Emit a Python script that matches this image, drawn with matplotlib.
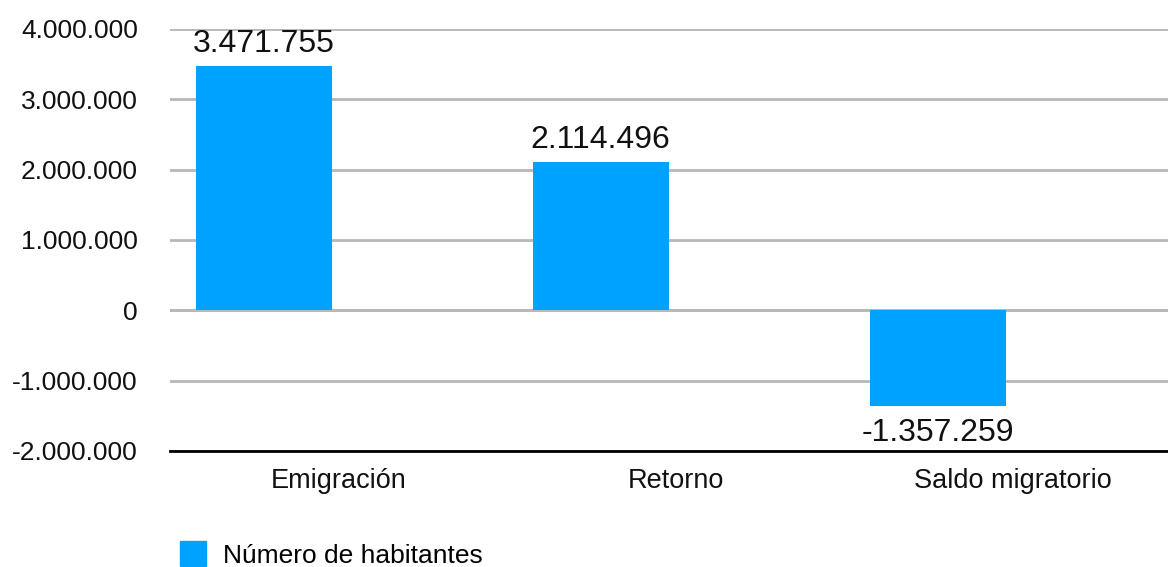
import matplotlib as mpl
mpl.use('Agg')
import matplotlib.pyplot as plt
from matplotlib.ticker import FuncFormatter, MultipleLocator
from matplotlib.patches import Patch

# Saldo migratorio
categorias = ['Emigración', 'Retorno', 'Saldo migratorio']
habitantes = [3471755, 2114496, -1357259]
serie = 'Número de habitantes'

AZUL = '#00A2FF'
GRIS = '#B8B8B8'


def miles(v):
    return f'{int(round(v)):,}'.replace(',', '.')


plt.rcParams['font.family'] = ['Liberation Sans', 'DejaVu Sans']

fig = plt.figure(figsize=(11.68, 5.67), dpi=100)
# the last category slot runs a little past the right edge
ax = fig.add_axes([0.1455, 0.2046, 0.8656, 0.7443])

x = list(range(len(categorias)))
# bars sit in the left part of each category slot
offset = -0.222
bars = ax.bar([i + offset for i in x], habitantes, width=0.404,
              color=AZUL, zorder=3)

for b, v in zip(bars, habitantes):
    if v >= 0:
        ax.annotate(miles(v), (b.get_x() + b.get_width() / 2, v),
                    xytext=(0, 5), textcoords='offset points',
                    ha='center', va='bottom', fontsize=23, color='#111111')
    else:
        ax.annotate(miles(v), (b.get_x() + b.get_width() / 2, v),
                    xytext=(0, -9), textcoords='offset points',
                    ha='center', va='top', fontsize=23, color='#111111')

ax.set_xlim(-0.5, 2.5)
ax.set_ylim(-2000000, 4000000)
ax.yaxis.set_major_locator(MultipleLocator(1000000))
ax.yaxis.set_major_formatter(FuncFormatter(lambda v, p: miles(v)))
ax.set_xticks(x)
ax.set_xticklabels(categorias)

ax.grid(axis='y', color=GRIS, linewidth=2, zorder=1)
ax.axhline(0, color=GRIS, linewidth=2, zorder=2)
for s in ['top', 'right', 'left']:
    ax.spines[s].set_visible(False)
ax.spines['bottom'].set_color('black')
ax.spines['bottom'].set_linewidth(2)
ax.spines['bottom'].set_zorder(4)

ax.tick_params(axis='y', length=0, labelsize=19, colors='#111111', pad=23)
ax.tick_params(axis='x', length=0, labelsize=19.5, colors='#111111', pad=12)

# legend sits right at the bottom edge
fig.legend(handles=[Patch(color=AZUL, label=serie)], loc='lower left',
           bbox_to_anchor=(0.1335, -0.043), frameon=False, fontsize=19,
           handlelength=1.0, handleheight=1.1, handletextpad=0.65)

fig.savefig('out.png', dpi=100)
